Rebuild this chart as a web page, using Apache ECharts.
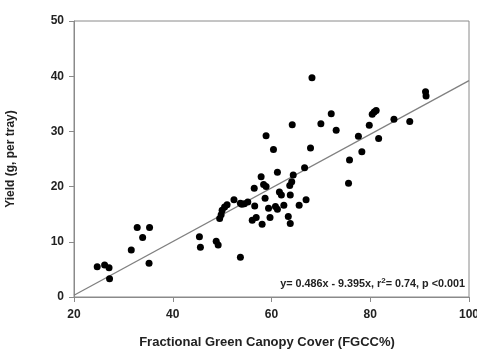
<!DOCTYPE html>
<html>
<head>
<meta charset="utf-8">
<script src="https://cdn.jsdelivr.net/npm/echarts@6/dist/echarts.min.js"></script>
<style>html,body{margin:0;padding:0;background:#fff;}#c{width:477px;height:350px;}</style>
</head>
<body>
<div id="c"></div>
<script>
// FGCC (%) values
var fgcc = [24.7,26.2,27.1,27.2,31.6,32.8,33.9,35.3,35.2,
  45.4,45.6,48.8,49.2,53.7,
  49.5,49.8,50.0,50.5,51.0,52.4,54.0,54.5,55.2,
  56.6,56.1,56.9,58.1,56.5,57.9,58.4,58.9,58.7,
  59.4,59.7,61.2,61.2,61.6,62.0,62.5,63.4,63.8,
  63.8,63.7,64.1,64.4,65.6,67.0,66.7,
  58.9,60.4,64.2,67.9,68.2,70.0,72.1,73.1,
  75.8,75.6,77.6,78.3,79.8,80.4,80.8,81.2,81.7,
  84.8,88.0,91.2,91.3,60.8,53.7];
// Yield (g per tray) values
var yieldG = [5.5,5.8,5.3,3.3,8.5,12.6,10.8,12.6,6.1,
  10.9,9.0,10.1,9.4,7.2,
  14.2,14.9,15.7,16.3,16.7,17.6,16.8,16.9,17.2,
  16.5,13.9,14.4,13.2,19.7,21.8,20.4,20.0,17.9,
  16.1,14.4,22.6,15.9,19.0,18.5,16.6,14.6,13.3,
  18.5,20.2,20.9,22.1,16.6,17.6,23.4,
  29.2,26.7,31.2,27.0,39.7,31.4,33.2,30.2,
  24.8,20.6,29.1,26.3,31.1,33.1,33.5,33.8,28.7,
  32.2,31.8,37.2,36.4,16.4,17.0];
// regression
var slope = 0.486, intercept = -9.395;
var fitX = [20, 100];
var xTicks = [20, 40, 60, 80, 100];
var yTicks = [0, 10, 20, 30, 40, 50];

var pts = fgcc.map(function(x, i){ return [x, yieldG[i]]; });
var fit = fitX.map(function(x){ return [x, slope * x + intercept]; });

var ff = '"Liberation Sans", Arial, sans-serif';
var chart = echarts.init(document.getElementById('c'), null, {renderer:'canvas'});
chart.setOption({
  animation: false,
  backgroundColor: '#fff',
  grid: {left: 74, right: 8, top: 21, bottom: 53, show: true, borderColor: '#8a8a8a', borderWidth: 1,
         containLabel: false, outerBoundsMode: 'none'},
  xAxis: {
    type: 'value', min: xTicks[0], max: xTicks[xTicks.length-1], interval: 20,
    name: 'Fractional Green Canopy Cover (FGCC%)', nameLocation: 'middle', nameGap: 39,
    nameTextStyle: {fontFamily: ff, fontWeight: 'bold', fontSize: 13, color: '#222', padding: [0, 9, 0, 0]},
    axisLine: {show: true, lineStyle: {color: '#8a8a8a', width: 1}},
    axisTick: {show: true, inside: false, length: 5, lineStyle: {color: '#8a8a8a'}},
    axisLabel: {fontFamily: ff, fontWeight: 'bold', fontSize: 12, color: '#222', margin: 12, showMaxLabel: true},
    splitLine: {show: false}
  },
  yAxis: {
    type: 'value', min: yTicks[0], max: yTicks[yTicks.length-1], interval: 10,
    name: 'Yield (g, per tray)', nameLocation: 'middle', nameGap: 57,
    nameTextStyle: {fontFamily: ff, fontWeight: 'bold', fontSize: 12, color: '#222'},
    axisLine: {show: true, lineStyle: {color: '#8a8a8a', width: 1}},
    axisTick: {show: true, inside: false, length: 5, lineStyle: {color: '#8a8a8a'}},
    axisLabel: {fontFamily: ff, fontWeight: 'bold', fontSize: 12, color: '#222', margin: 10},
    splitLine: {show: false}
  },
  series: [
    {type: 'line', data: fit, showSymbol: false, symbol: 'none',
     lineStyle: {color: '#808080', width: 1.3}, z: 1},
    {type: 'scatter', data: pts, symbol: 'circle', symbolSize: 7,
     itemStyle: {color: '#000', opacity: 1}, z: 2}
  ],
  graphic: [{
    type: 'text', right: 12, top: 277,
    style: {
      text: '{a|y= 0.486x - 9.395x, r}{s|2}{a|= 0.74, p <0.001}',
      rich: {
        a: {fontFamily: ff, fontWeight: 'bold', fontSize: 10.8, fill: '#222', verticalAlign: 'bottom'},
        s: {fontFamily: ff, fontWeight: 'bold', fontSize: 8, fill: '#222', verticalAlign: 'top', padding: [0,0,5,0]}
      }
    }
  }]
});
</script>
</body>
</html>
